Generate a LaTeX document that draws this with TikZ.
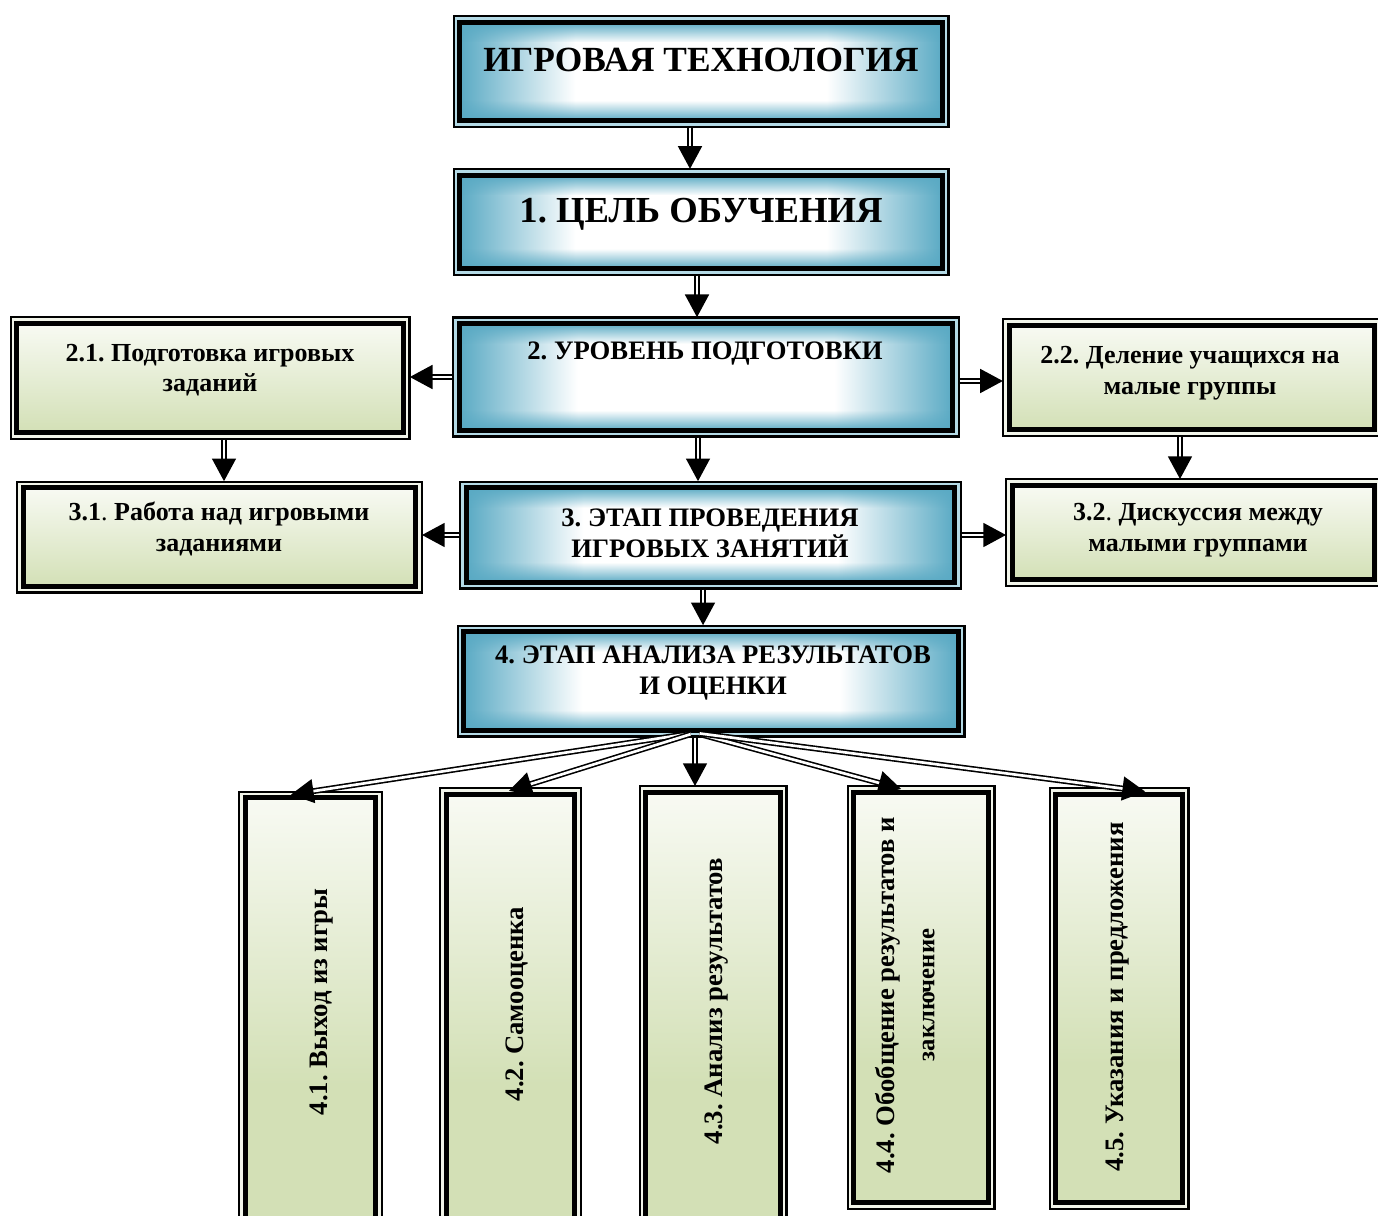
\documentclass[tikz,border=0pt]{standalone}
\usepackage{fontspec}
\setmainfont{Liberation Serif}
\frenchspacing
\usetikzlibrary{arrows.meta,fadings}

\definecolor{aqua}{HTML}{5AAAC4}
\definecolor{aquagap}{HTML}{B4DAE6}
\definecolor{olive}{HTML}{D3E0B6}
\definecolor{olivetop}{HTML}{F8FAF3}
\definecolor{olivegap}{HTML}{F2F5EA}

\pgfdeclarehorizontalshading{aquaside}{100bp}{color(0bp)=(aqua); color(25bp)=(aqua); color(37bp)=(white); color(63bp)=(white); color(75bp)=(aqua); color(100bp)=(aqua)}
\pgfdeclareverticalshading{olivedown}{100bp}{color(0bp)=(olive); color(25bp)=(olive); color(75bp)=(olivetop); color(100bp)=(olivetop)}
\pgfdeclareverticalshading{olivetall}{100bp}{color(0bp)=(olive); color(25bp)=(olive); color(42bp)=(olive); color(75bp)=(olivetop); color(100bp)=(olivetop)}
\tikzfading[name=fadetop, top color=transparent!0, bottom color=transparent!100]
\tikzfading[name=fadebot, top color=transparent!100, bottom color=transparent!0]

\tikzset{
  frame/.style={draw, line width=3.75pt, inner sep=0pt},
  bluebox/.style={frame, path picture={
      \shade[shading=aquaside] (path picture bounding box.south west) rectangle (path picture bounding box.north east);
      \fill[aqua, path fading=fadetop] (path picture bounding box.north west) rectangle ([yshift=-15pt]path picture bounding box.north east);
      \fill[aqua, path fading=fadebot] (path picture bounding box.south west) rectangle ([yshift=15pt]path picture bounding box.south east);}},
  greenbox/.style={frame, shade, shading=olivedown},
  tallbox/.style={frame, shade, shading=olivetall},
  big/.style={font=\bfseries\fontsize{26.5}{30}\selectfont},
  mid/.style={font=\bfseries\fontsize{20}{23}\selectfont, align=center},
  small/.style={font=\bfseries\fontsize{19.5}{23}\selectfont, align=center},
  side/.style={font=\bfseries\fontsize{20}{30}\selectfont, align=center, rotate=90},
  dbl/.style={draw, line width=1.2pt, double=white, double distance=2pt,
    shorten <=3.5pt, shorten >=3pt, -{Triangle[length=17pt, width=18pt]}}
}

\begin{document}
\begin{tikzpicture}[x=0.75pt, y=-0.75pt]
  \newcommand\outerframe[2]{% {<node>}{<gap colour>}
    \draw[line width=1.9pt, #2] ([shift={(-0.95pt,0.95pt)}]#1.north west) rectangle ([shift={(0.95pt,-0.95pt)}]#1.south east);
    \draw[line width=1.6pt] ([shift={(-2.7pt,2.7pt)}]#1.north west) rectangle ([shift={(2.7pt,-2.7pt)}]#1.south east);
  }
  \useasboundingbox (0,0) rectangle (1378,1216);

  % main column
  \node[bluebox, minimum width=362pt, minimum height=73.5pt] (b0) at (701,71.5) {};
  \node[bluebox, minimum width=362pt, minimum height=70pt] (b1) at (701,222) {};
  \node[bluebox, minimum width=370pt, minimum height=80pt] (b2) at (706,377) {};
  \node[bluebox, minimum width=366pt, minimum height=71pt] (b3) at (710.5,535) {};
  \node[bluebox, minimum width=371pt, minimum height=74pt] (b4) at (711,681) {};
  \outerframe{b0}{aquagap}
  \outerframe{b1}{aquagap}
  \outerframe{b2}{aquagap}
  \outerframe{b3}{aquagap}
  \outerframe{b4}{aquagap}

  % side boxes
  \node[greenbox, minimum width=290pt, minimum height=82pt] (b21) at (210,378) {};
  \node[greenbox, minimum width=274pt, minimum height=78pt] (b22) at (1192,377.5) {};
  \node[greenbox, minimum width=294pt, minimum height=74pt] (b31) at (219.5,537) {};
  \node[greenbox, minimum width=271.5pt, minimum height=70.5pt] (b32) at (1193.5,532.5) {};
  \outerframe{b21}{olivegap}
  \outerframe{b22}{olivegap}
  \outerframe{b31}{olivegap}
  \outerframe{b32}{olivegap}

  % bottom row
  \node[tallbox, minimum width=97.5pt, minimum height=326pt] (b41) at (310.5,1015) {};
  \node[tallbox, minimum width=96pt, minimum height=328.5pt] (b42) at (510.5,1013.5) {};
  \node[tallbox, minimum width=101pt, minimum height=330pt] (b43) at (713,1012.5) {};
  \node[tallbox, minimum width=101pt, minimum height=307.5pt] (b44) at (921,997.5) {};
  \node[tallbox, minimum width=95pt, minimum height=306pt] (b45) at (1119,998.5) {};
  \outerframe{b41}{olivegap}
  \outerframe{b42}{olivegap}
  \outerframe{b43}{olivegap}
  \outerframe{b44}{olivegap}
  \outerframe{b45}{olivegap}

  % texts
  \node[big] (t0) at (701,60) {ИГРОВАЯ ТЕХНОЛОГИЯ};
  \node[big, font=\bfseries\fontsize{27.5}{30}\selectfont] (t1) at (701,214) {1. ЦЕЛЬ ОБУЧЕНИЯ};
  \node[mid] (t2) at (705,354) {2. УРОВЕНЬ ПОДГОТОВКИ};
  \node[mid] (t3) at (710,533) {3. ЭТАП ПРОВЕДЕНИЯ\\ИГРОВЫХ ЗАНЯТИЙ};
  \node[mid] (t4) at (713,673) {4. ЭТАП АНАЛИЗА РЕЗУЛЬТАТОВ\\И ОЦЕНКИ};
  \node[small] (t21) at (210,370) {2.1. Подготовка игровых\\заданий};
  \node[small] (t22) at (1190,373) {2.2. Деление учащихся на\\малые группы};
  \node[small] (t31) at (219,529) {3.1{\mdseries.} Работа над игровыми\\заданиями};
  \node[small] (t32) at (1198,530) {3.2{\mdseries.} Дискуссия между\\малыми группами};
  \node[side] (t41) at (322,1002) {4.1. Выход из игры};
  \node[side] (t42) at (517,1004) {4.2. Самооценка};
  \node[side] (t43) at (717,1001) {4.3. Анализ результатов};
  \node[side] (t44) at (905,995) {4.4. Обобщение результатов и\\{\fontsize{18.5}{30}\selectfont заключение}};
  \node[side] (t45) at (1118,997) {4.5. Указания и предложения};

  % arrows
  \draw[dbl] ([xshift=-8.25pt]b0.south) -- ([xshift=-8.25pt]b0.south |- b1.north);
  \draw[dbl] ([xshift=-3pt]b1.south) -- ([xshift=-3pt]b1.south |- b2.north);
  \draw[dbl] (b2.west) -- (b2.west -| b21.east);
  \draw[dbl] ([yshift=-3pt]b2.east) -- ([yshift=-3pt]b2.east -| b22.west);
  \draw[dbl] ([xshift=10.5pt]b21.south) -- ([xshift=10.5pt]b21.south |- b31.north);
  \draw[dbl] ([xshift=-9pt]b22.south) -- ([xshift=-9pt]b22.south |- b32.north);
  \draw[dbl] ([xshift=-6pt]b2.south) -- ([xshift=-6pt]b2.south |- b3.north);
  \draw[dbl] (b3.west) -- (b3.west -| b31.east);
  \draw[dbl] (b3.east) -- (b3.east -| b32.west);
  \draw[dbl] ([xshift=-5.6pt]b3.south) -- ([xshift=-5.6pt]b3.south |- b4.north);
  \coordinate (fan) at ([xshift=-12pt]b4.south);
  \draw[dbl] (fan) -- ([xshift=-17.6pt]b41.north);
  \draw[dbl] (fan) -- ([xshift=-4pt]b42.north);
  \draw[dbl] (fan) -- (fan |- b43.north);
  \draw[dbl] (fan) -- ([xshift=-12pt]b44.north);
  \draw[dbl] (fan) -- ([xshift=22.5pt]b45.north);
\end{tikzpicture}
\end{document}
